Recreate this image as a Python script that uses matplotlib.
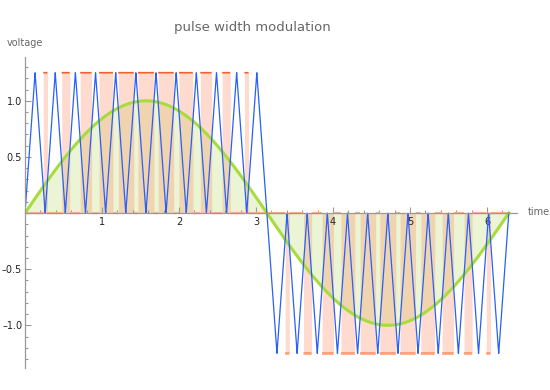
import numpy as np
import matplotlib
matplotlib.use("Agg")
import matplotlib.pyplot as plt
from matplotlib.ticker import MultipleLocator, FixedLocator

# ---- chart parameters ----
signal_amplitude = 1.0          # peak of the green sine (modulating signal)
carrier_amplitude = 1.25        # peak of the blue triangle carrier and of the pulses
carrier_cycles_per_half = 12    # triangle teeth in each half period
x_ticks = [1, 2, 3, 4, 5, 6]
x_tick_labels = ["1", "2", "3", "4", "5", "6"]
y_ticks = [-1.0, -0.5, 0.5, 1.0]
y_tick_labels = ["\u20131.0", "\u20130.5", "0.5", "1.0"]
title_text = "pulse width modulation"
x_label = "time"
y_label = "voltage"

# ---- build the curves ----
t = np.linspace(0, 2 * np.pi, 40001)
signal = signal_amplitude * np.sin(t)
period = np.pi / carrier_cycles_per_half
phase = (t % period) / period
tri_unit = 1 - np.abs(2 * phase - 1)           # 0 -> 1 -> 0 inside each tooth
sign = np.where(t <= np.pi, 1.0, -1.0)
carrier = sign * carrier_amplitude * tri_unit
on = np.where(sign > 0, signal > carrier, signal < carrier)
pulse = np.where(on, sign * carrier_amplitude, 0.0)

# line version of the pulse without vertical jumps
pulse_line = pulse.copy()
jump = np.zeros_like(pulse, dtype=bool)
jump[1:] = pulse[1:] != pulse[:-1]
pulse_line[jump] = np.nan
top_line = np.where(pulse_line > 0, pulse_line, np.nan)
bot_line = np.where(pulse_line < 0, pulse_line, np.nan)
zero_line = np.where(pulse_line == 0, pulse_line, np.nan)

W, H = 550, 390
fig = plt.figure(figsize=(W / 100, H / 100), dpi=100)
ax = fig.add_axes([25 / W, 22 / H, (517 - 25) / W, (368 - 57) / H])
ax.set_xlim(0, 6.39)
ax.set_ylim(-1.38, 1.39)

ax.fill_between(t, signal, 0, color=(0.62, 0.82, 0.2), alpha=0.2, lw=0, zorder=1)
ax.fill_between(t, pulse, 0, color=(1.0, 0.45, 0.25), alpha=0.25, lw=0, zorder=1)

ax.plot(t, zero_line, color="#ffb090", lw=1.6, zorder=2, solid_capstyle="butt")
ax.plot(t, top_line, color="#f2602a", lw=1.2, zorder=2, solid_capstyle="butt")
ax.plot(t, bot_line, color="#ffa07a", lw=2.0, zorder=2, solid_capstyle="butt")
ax.plot(t, signal, color="#a8dc3c", lw=2.2, zorder=3)
ax.plot(t, carrier, color="#2860f8", lw=0.9, zorder=4)

for s in ["top", "right"]:
    ax.spines[s].set_visible(False)
ax.spines["bottom"].set_position(("data", 0))
ax.spines["left"].set_position(("data", 0))
for s in ["bottom", "left"]:
    ax.spines[s].set_color("#999999")
    ax.spines[s].set_linewidth(0.9)
    ax.spines[s].set_zorder(5)

ax.xaxis.set_major_locator(FixedLocator(x_ticks))
ax.set_xticklabels(x_tick_labels)
ax.xaxis.set_minor_locator(MultipleLocator(0.2))
ax.yaxis.set_major_locator(FixedLocator(y_ticks))
ax.set_yticklabels(y_tick_labels)
ax.yaxis.set_minor_locator(MultipleLocator(0.1))
ax.tick_params(which="both", direction="in", colors="#999999", labelcolor="#222222",
               labelsize=7, width=0.8)
ax.tick_params(which="major", length=4, pad=3)
ax.tick_params(axis="y", which="major", pad=2)
ax.tick_params(which="minor", length=2.2)

fig.text(252 / W, 1 - 28 / H, title_text, ha="center", va="center",
         fontsize=9.5, color="#666666")
fig.text(7 / W, 1 - 43 / H, y_label, ha="left", va="center", fontsize=7, color="#666666")
fig.text(528 / W, 1 - 212 / H, x_label, ha="left", va="center", fontsize=7, color="#666666")

fig.savefig("out.png", dpi=100)
